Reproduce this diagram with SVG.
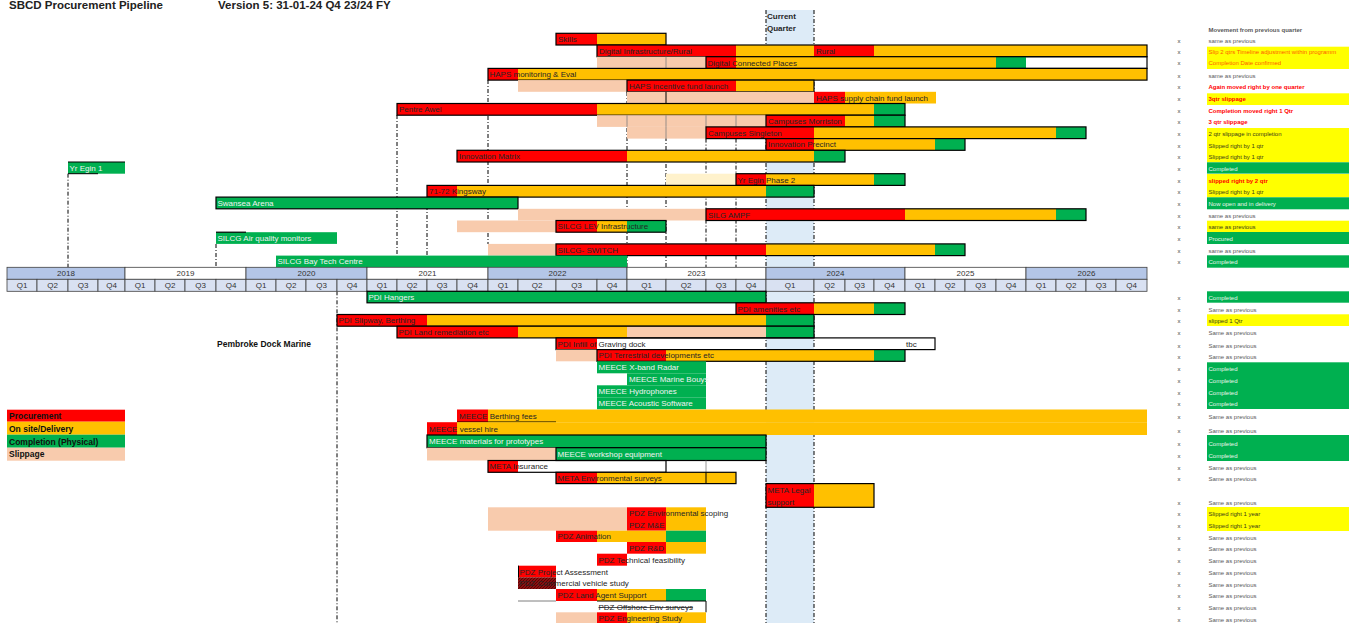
<svg xmlns="http://www.w3.org/2000/svg" width="1349" height="623" viewBox="0 0 1349 623">
<defs>
<style>
.r{fill:#FF0000}.o{fill:#FFC000}.g{fill:#00B050}.s{fill:#F8CBAD}.c{fill:#FFF2CC}.y{fill:#FFFF00}
.b{fill:none;stroke:#000;stroke-width:1.2}
.gl{stroke:#7f7f7f;stroke-width:0.8}
.t{font-family:"Liberation Sans",Arial,sans-serif;font-size:8px;fill:#262626}
.w{fill:#F2F2F2}
.dl{stroke:#000;stroke-width:1;stroke-dasharray:4 2 1 2;fill:none}
.yr{fill:#B4C6E7;stroke:#404040;stroke-width:0.8}
.yw{fill:#FFFFFF;stroke:#404040;stroke-width:0.8}
.q{fill:#D9E1F2;stroke:#404040;stroke-width:0.8}
.hc{font-family:"Liberation Sans",Arial,sans-serif;font-size:8px;fill:#333;text-anchor:middle}
.lg{font-family:"Liberation Sans",Arial,sans-serif;font-size:8.5px;font-weight:bold;fill:#111}
.n{font-family:"Liberation Sans",Arial,sans-serif;font-size:6px;fill:#595959}
.nb{font-weight:bold;fill:#FF0000}
.no{fill:#FF5B00}
.nd{fill:#3a3a1a}
.nw{fill:#E8F5EC}
.x{font-family:"Liberation Sans",Arial,sans-serif;font-size:6px;fill:#404040}
.ti{font-family:"Liberation Sans",Arial,sans-serif;font-size:11.5px;font-weight:bold;fill:#222}
</style>
<pattern id="hatch" width="3" height="3" patternUnits="userSpaceOnUse">
<rect width="3" height="3" fill="#8B1010"/>
<path d="M0,3 L3,0" stroke="#4a0000" stroke-width="0.8"/>
</pattern>
</defs>
<rect width="1349" height="623" fill="#FFFFFF"/>

<g id="title">
<text class="ti" x="9" y="9">SBCD Procurement Pipeline</text>
<text class="ti" x="218" y="9">Version 5:  31-01-24 Q4 23/24 FY</text>
</g>

<g id="current-quarter">
<rect x="766" y="10" width="48" height="613" fill="#DDEBF7"/>
<text class="t" x="767" y="19" font-weight="bold">Current</text>
<text class="t" x="767" y="31" font-weight="bold">Quarter</text>
</g>

<g id="connectors">
<line class="dl" x1="68" y1="173.7" x2="68" y2="267.3"/>
<line class="dl" x1="216" y1="244" x2="216" y2="267.3"/>
<line class="dl" x1="397" y1="115" x2="397" y2="255.6"/>
<line class="dl" x1="427" y1="197" x2="427" y2="255.6"/>
<line class="dl" x1="488" y1="80" x2="488" y2="244"/>
<line class="dl" x1="627" y1="92" x2="627" y2="267.3"/>
<line class="dl" x1="666" y1="92" x2="666" y2="267.3"/>
<line class="dl" x1="706" y1="138.6" x2="706" y2="267.3"/>
<line class="dl" x1="736" y1="138.6" x2="736" y2="267.3"/>
<line class="dl" x1="766" y1="10" x2="766" y2="623"/>
<line class="dl" x1="814" y1="10" x2="814" y2="623"/>
<line class="dl" x1="337" y1="291.3" x2="337" y2="623"/>
</g>

<g id="skills">
<rect class="r" x="556" y="33.3" width="41" height="11.7"/><rect class="o" x="597" y="33.3" width="69" height="11.7"/>
<rect class="b" x="556" y="33.3" width="110" height="11.7"/>
<text class="t" x="558" y="42.1">Skills</text>
</g>
<g id="digital-infrastructure">
<rect class="r" x="597" y="45" width="139" height="11.7"/><rect class="o" x="736" y="45" width="78" height="11.7"/>
<rect class="r" x="814" y="45" width="60" height="11.7"/><rect class="o" x="874" y="45" width="273" height="11.7"/>
<rect class="b" x="597" y="45" width="550" height="11.7"/>
<text class="t" x="599" y="53.8">Digital Infrastructure/Rural</text>
<text class="t" x="816" y="53.8">Rural</text>
</g>
<g id="digital-connected-places">
<rect class="s" x="597" y="56.7" width="109" height="11.7"/><line class="gl" x1="666" y1="56.7" x2="666" y2="68.4"/>
<rect class="r" x="706" y="56.7" width="30" height="11.7"/><rect class="o" x="736" y="56.7" width="260" height="11.7"/>
<rect class="g" x="996" y="56.7" width="30" height="11.7"/>
<rect class="b" x="706" y="56.7" width="441" height="11.7"/>
<text class="t" x="707.5" y="65.5">Digital Connected Places</text>
</g>
<g id="haps-monitoring">
<rect class="r" x="488" y="68.4" width="30" height="11.7"/><rect class="o" x="518" y="68.4" width="629" height="11.7"/>
<rect class="b" x="488" y="68.4" width="659" height="11.7"/>
<text class="t" x="489.5" y="77.2">HAPS monitoring &amp; Eval</text>
</g>
<g id="haps-incentive">
<rect class="s" x="518" y="80.1" width="109" height="11.7"/>
<rect class="r" x="627" y="80.1" width="109" height="11.7"/><rect class="o" x="736" y="80.1" width="78" height="11.7"/>
<rect class="b" x="627" y="80.1" width="187" height="11.7"/>
<text class="t" x="629" y="88.9">HAPS incentive fund launch</text>
</g>
<g id="haps-supply-chain">
<rect class="s" x="627" y="91.8" width="187" height="11.7"/><line x1="666" y1="91.8" x2="666" y2="103.5" stroke="#000" stroke-width="1"/>
<rect class="r" x="814" y="91.8" width="31" height="11.7"/><rect class="o" x="845" y="91.8" width="91" height="11.7"/>
<text class="t" x="816" y="100.6">HAPS supply chain fund launch</text>
</g>
<g id="pentre-awel">
<rect class="r" x="397" y="103.5" width="200" height="11.7"/><rect class="o" x="597" y="103.5" width="277" height="11.7"/>
<rect class="g" x="874" y="103.5" width="31" height="11.7"/>
<rect class="b" x="397" y="103.5" width="508" height="11.7"/>
<text class="t" x="399" y="112.3">Pentre Awel</text>
</g>
<g id="campuses-morriston">
<rect class="s" x="597" y="115.2" width="169" height="11.7"/>
<line class="gl" x1="627" y1="115.2" x2="627" y2="126.9"/><line class="gl" x1="666" y1="115.2" x2="666" y2="126.9"/><line class="gl" x1="706" y1="115.2" x2="706" y2="126.9"/><line class="gl" x1="736" y1="115.2" x2="736" y2="126.9"/>
<rect class="r" x="766" y="115.2" width="79" height="11.7"/><rect class="o" x="845" y="115.2" width="29" height="11.7"/>
<rect class="g" x="874" y="115.2" width="31" height="11.7"/>
<rect class="b" x="766" y="115.2" width="139" height="11.7"/>
<text class="t" x="768" y="124">Campuses Morriston</text>
</g>
<g id="campuses-singleton">
<rect class="s" x="627" y="126.9" width="79" height="11.7"/><line class="gl" x1="666" y1="126.9" x2="666" y2="138.6"/>
<rect class="r" x="706" y="126.9" width="108" height="11.7"/><rect class="o" x="814" y="126.9" width="242" height="11.7"/>
<rect class="g" x="1056" y="126.9" width="30" height="11.7"/>
<rect class="b" x="706" y="126.9" width="380" height="11.7"/>
<text class="t" x="708" y="135.7">Campuses Singleton</text>
</g>
<g id="innovation-precinct">
<rect class="r" x="766" y="138.6" width="48" height="11.7"/><rect class="o" x="814" y="138.6" width="121" height="11.7"/>
<rect class="g" x="935" y="138.6" width="30" height="11.7"/>
<rect class="b" x="766" y="138.6" width="199" height="11.7"/>
<text class="t" x="768" y="147.4">Innovation Precinct</text>
</g>
<g id="innovation-matrix">
<rect class="r" x="457" y="150.3" width="170" height="11.7"/><rect class="o" x="627" y="150.3" width="187" height="11.7"/>
<rect class="g" x="814" y="150.3" width="31" height="11.7"/>
<rect class="b" x="457" y="150.3" width="388" height="11.7"/>
<text class="t" x="459" y="159.1">Innovation Matrix</text>
</g>
<g id="yr-egin-1">
<rect class="g" x="68" y="162" width="57" height="11.7"/>
<line x1="68" y1="162" x2="125" y2="162" stroke="#000" stroke-width="1.2"/><line x1="68" y1="173.7" x2="98" y2="173.7" stroke="#000" stroke-width="1"/>
<text class="t w" x="69.5" y="170.8">Yr Egin 1</text>
</g>
<g id="yr-egin-2">
<rect class="c" x="666" y="173.7" width="70" height="11.7"/>
<rect class="r" x="736" y="173.7" width="30" height="11.7"/><rect class="o" x="766" y="173.7" width="108" height="11.7"/>
<rect class="g" x="874" y="173.7" width="31" height="11.7"/>
<rect class="b" x="736" y="173.7" width="169" height="11.7"/>
<text class="t" x="737.5" y="182.5">Yr Egin Phase 2</text>
</g>
<g id="kingsway">
<rect class="r" x="427" y="185.4" width="30" height="11.7"/><rect class="o" x="457" y="185.4" width="309" height="11.7"/>
<rect class="g" x="766" y="185.4" width="48" height="11.7"/>
<rect class="b" x="427" y="185.4" width="387" height="11.7"/>
<text class="t" x="429" y="194.2">71-72 Kingsway</text>
</g>
<g id="swansea-arena">
<rect class="g" x="216" y="197.1" width="302" height="11.7"/>
<rect class="b" x="216" y="197.1" width="302" height="11.7"/>
<text class="t w" x="217.5" y="205.9">Swansea Arena</text>
</g>
<g id="silg-ampf">
<rect class="s" x="518" y="208.8" width="188" height="11.7"/>
<rect class="r" x="706" y="208.8" width="199" height="11.7"/><rect class="o" x="905" y="208.8" width="151" height="11.7"/>
<rect class="g" x="1056" y="208.8" width="30" height="11.7"/>
<rect class="b" x="706" y="208.8" width="380" height="11.7"/>
<text class="t" x="708" y="217.6">SILG AMPF</text>
</g>
<g id="silcg-lev">
<rect class="s" x="457" y="220.5" width="99" height="11.7"/>
<rect class="r" x="556" y="220.5" width="41" height="11.7"/><rect class="o" x="597" y="220.5" width="30" height="11.7"/>
<rect class="g" x="627" y="220.5" width="39" height="11.7"/>
<rect class="b" x="556" y="220.5" width="110" height="11.7"/>
<text class="t" x="557.5" y="229.3">SILCG LEV Infrastructure</text>
</g>
<g id="silcg-air-quality">
<rect class="g" x="216" y="232.2" width="121" height="11.7"/>
<line x1="216" y1="232.2" x2="246" y2="232.2" stroke="#000" stroke-width="1.2"/>
<text class="t w" x="217.5" y="241">SILCG Air quality monitors</text>
</g>
<g id="silcg-switch">
<rect class="s" x="488" y="243.9" width="68" height="11.7"/>
<rect class="r" x="556" y="243.9" width="210" height="11.7"/><rect class="o" x="766" y="243.9" width="169" height="11.7"/>
<rect class="g" x="935" y="243.9" width="30" height="11.7"/>
<rect class="b" x="556" y="243.9" width="409" height="11.7"/>
<text class="t" x="557.5" y="252.7">SILCG- SWITCH</text>
</g>
<g id="silcg-bay-tech">
<rect class="g" x="276" y="255.6" width="351" height="11.7"/>
<text class="t w" x="277.5" y="264.4">SILCG Bay Tech Centre</text>
</g>

<g id="timeline">
<rect class="yr" x="7" y="267.3" width="118" height="12"/><text class="hc" x="66" y="276.3">2018</text>
<rect class="yw" x="125" y="267.3" width="121" height="12"/><text class="hc" x="185.5" y="276.3">2019</text>
<rect class="yr" x="246" y="267.3" width="121" height="12"/><text class="hc" x="306.5" y="276.3">2020</text>
<rect class="yw" x="367" y="267.3" width="121" height="12"/><text class="hc" x="427.5" y="276.3">2021</text>
<rect class="yr" x="488" y="267.3" width="139" height="12"/><text class="hc" x="557.5" y="276.3">2022</text>
<rect class="yw" x="627" y="267.3" width="139" height="12"/><text class="hc" x="696.5" y="276.3">2023</text>
<rect class="yr" x="766" y="267.3" width="139" height="12"/><text class="hc" x="835.5" y="276.3">2024</text>
<rect class="yw" x="905" y="267.3" width="121" height="12"/><text class="hc" x="965.5" y="276.3">2025</text>
<rect class="yr" x="1026" y="267.3" width="121" height="12"/><text class="hc" x="1086.5" y="276.3">2026</text>
<rect class="q" x="7" y="279.3" width="30" height="12"/><text class="hc" x="22" y="288.3">Q1</text>
<rect class="q" x="37" y="279.3" width="31" height="12"/><text class="hc" x="52.5" y="288.3">Q2</text>
<rect class="q" x="68" y="279.3" width="30" height="12"/><text class="hc" x="83" y="288.3">Q3</text>
<rect class="q" x="98" y="279.3" width="27" height="12"/><text class="hc" x="111.5" y="288.3">Q4</text>
<rect class="q" x="125" y="279.3" width="30" height="12"/><text class="hc" x="140" y="288.3">Q1</text>
<rect class="q" x="155" y="279.3" width="30" height="12"/><text class="hc" x="170" y="288.3">Q2</text>
<rect class="q" x="185" y="279.3" width="31" height="12"/><text class="hc" x="200.5" y="288.3">Q3</text>
<rect class="q" x="216" y="279.3" width="30" height="12"/><text class="hc" x="231" y="288.3">Q4</text>
<rect class="q" x="246" y="279.3" width="30" height="12"/><text class="hc" x="261" y="288.3">Q1</text>
<rect class="q" x="276" y="279.3" width="30" height="12"/><text class="hc" x="291" y="288.3">Q2</text>
<rect class="q" x="306" y="279.3" width="31" height="12"/><text class="hc" x="321.5" y="288.3">Q3</text>
<rect class="q" x="337" y="279.3" width="30" height="12"/><text class="hc" x="352" y="288.3">Q4</text>
<rect class="q" x="367" y="279.3" width="30" height="12"/><text class="hc" x="382" y="288.3">Q1</text>
<rect class="q" x="397" y="279.3" width="30" height="12"/><text class="hc" x="412" y="288.3">Q2</text>
<rect class="q" x="427" y="279.3" width="30" height="12"/><text class="hc" x="442" y="288.3">Q3</text>
<rect class="q" x="457" y="279.3" width="31" height="12"/><text class="hc" x="472.5" y="288.3">Q4</text>
<rect class="q" x="488" y="279.3" width="30" height="12"/><text class="hc" x="503" y="288.3">Q1</text>
<rect class="q" x="518" y="279.3" width="38" height="12"/><text class="hc" x="537" y="288.3">Q2</text>
<rect class="q" x="556" y="279.3" width="41" height="12"/><text class="hc" x="576.5" y="288.3">Q3</text>
<rect class="q" x="597" y="279.3" width="30" height="12"/><text class="hc" x="612" y="288.3">Q4</text>
<rect class="q" x="627" y="279.3" width="39" height="12"/><text class="hc" x="646.5" y="288.3">Q1</text>
<rect class="q" x="666" y="279.3" width="40" height="12"/><text class="hc" x="686" y="288.3">Q2</text>
<rect class="q" x="706" y="279.3" width="30" height="12"/><text class="hc" x="721" y="288.3">Q3</text>
<rect class="q" x="736" y="279.3" width="30" height="12"/><text class="hc" x="751" y="288.3">Q4</text>
<rect class="q" x="766" y="279.3" width="48" height="12"/><text class="hc" x="790" y="288.3">Q1</text>
<rect class="q" x="814" y="279.3" width="31" height="12"/><text class="hc" x="829.5" y="288.3">Q2</text>
<rect class="q" x="845" y="279.3" width="29" height="12"/><text class="hc" x="859.5" y="288.3">Q3</text>
<rect class="q" x="874" y="279.3" width="31" height="12"/><text class="hc" x="889.5" y="288.3">Q4</text>
<rect class="q" x="905" y="279.3" width="30" height="12"/><text class="hc" x="920" y="288.3">Q1</text>
<rect class="q" x="935" y="279.3" width="30" height="12"/><text class="hc" x="950" y="288.3">Q2</text>
<rect class="q" x="965" y="279.3" width="31" height="12"/><text class="hc" x="980.5" y="288.3">Q3</text>
<rect class="q" x="996" y="279.3" width="30" height="12"/><text class="hc" x="1011" y="288.3">Q4</text>
<rect class="q" x="1026" y="279.3" width="30" height="12"/><text class="hc" x="1041" y="288.3">Q1</text>
<rect class="q" x="1056" y="279.3" width="30" height="12"/><text class="hc" x="1071" y="288.3">Q2</text>
<rect class="q" x="1086" y="279.3" width="30" height="12"/><text class="hc" x="1101" y="288.3">Q3</text>
<rect class="q" x="1116" y="279.3" width="31" height="12"/><text class="hc" x="1131.5" y="288.3">Q4</text>
</g>

<g id="pdi-hangers">
<rect class="g" x="367" y="291.3" width="399" height="11.5"/>
<rect class="b" x="367" y="291.3" width="399" height="11.5"/>
<text class="t w" x="368.5" y="300">PDI Hangers</text>
</g>
<g id="pdi-amenities">
<rect class="r" x="736" y="302.8" width="78" height="11.7"/><rect class="o" x="814" y="302.8" width="60" height="11.7"/>
<rect class="g" x="874" y="302.8" width="31" height="11.7"/>
<rect class="b" x="736" y="302.8" width="169" height="11.7"/>
<text class="t" x="737.5" y="311.6">PDI amenities etc</text>
</g>
<g id="pdi-slipway">
<rect class="r" x="337" y="314.5" width="90" height="11.7"/><rect class="o" x="427" y="314.5" width="339" height="11.7"/>
<rect class="g" x="766" y="314.5" width="48" height="11.7"/>
<rect class="b" x="337" y="314.5" width="477" height="11.7"/>
<text class="t" x="338.5" y="323.3">PDI Slipway, Berthing</text>
</g>
<g id="pdi-land-remediation">
<rect class="r" x="397" y="326.2" width="121" height="11.7"/><rect class="o" x="518" y="326.2" width="109" height="11.7"/>
<rect class="s" x="627" y="326.2" width="139" height="11.7"/><rect class="g" x="766" y="326.2" width="48" height="11.7"/>
<rect class="b" x="397" y="326.2" width="417" height="11.7"/>
<text class="t" x="398.5" y="335">PDI Land remediation etc</text>
</g>
<g id="pdi-infill">
<rect class="r" x="556" y="337.9" width="41" height="11.7"/>
<rect class="b" x="556" y="337.9" width="379" height="11.7"/>
<text class="t" x="557.5" y="346.7">PDI Infill of Graving dock</text>
<text class="t" x="906" y="346.7">tbc</text>
</g>
<g id="pembroke-label">
<text class="lg" x="217" y="347">Pembroke Dock Marine</text>
</g>
<g id="pdi-terrestrial">
<rect class="s" x="556" y="349.6" width="41" height="11.7"/>
<rect class="r" x="597" y="349.6" width="69" height="11.7"/><rect class="o" x="666" y="349.6" width="208" height="11.7"/>
<rect class="g" x="874" y="349.6" width="31" height="11.7"/>
<rect class="b" x="597" y="349.6" width="308" height="11.7"/>
<text class="t" x="598.5" y="358.4">PDI Terrestrial developments etc</text>
</g>
<g id="meece-xband">
<rect class="g" x="597" y="361.3" width="109" height="12"/>
<text class="t w" x="598.5" y="370.3">MEECE X-band Radar</text>
</g>
<g id="meece-bouys">
<rect class="g" x="627" y="373.3" width="79" height="12"/>
<text class="t w" x="629" y="382.2">MEECE Marine Bouys</text>
</g>
<g id="meece-hydrophones">
<rect class="g" x="597" y="385.3" width="109" height="12"/>
<text class="t w" x="598.5" y="394.2">MEECE Hydrophones</text>
</g>
<g id="meece-acoustic">
<rect class="g" x="597" y="397.3" width="109" height="12"/>
<text class="t w" x="598.5" y="406">MEECE Acoustic Software</text>
</g>
<g id="meece-berthing">
<rect class="r" x="457" y="409.5" width="31" height="12.7"/><rect class="o" x="488" y="409.5" width="659" height="12.7"/>
<line x1="457" y1="422" x2="556" y2="422" stroke="#000" stroke-width="1"/>
<text class="t" x="459" y="418.6">MEECE Berthing fees</text>
</g>
<g id="meece-vessel">
<rect class="r" x="427" y="422.2" width="30" height="12.8"/><rect class="o" x="457" y="422.2" width="690" height="12.8"/>
<text class="t" x="429" y="431.6">MEECE vessel hire</text>
</g>
<g id="meece-materials">
<rect class="g" x="427" y="435" width="339" height="12.7"/>
<rect class="b" x="427" y="435" width="339" height="12.7"/>
<text class="t w" x="429" y="444.3">MEECE materials for prototypes</text>
</g>
<g id="meece-workshop">
<rect class="s" x="427" y="447.7" width="129" height="12.8"/>
<rect class="g" x="556" y="447.7" width="210" height="12.8"/>
<rect class="b" x="556" y="447.7" width="210" height="12.8"/>
<text class="t w" x="557.5" y="457">MEECE workshop equipment</text>
</g>
<g id="meta-insurance">
<rect class="r" x="488" y="460.5" width="30" height="11.8"/>
<rect class="b" x="488" y="460.5" width="178" height="11.8"/>
<line class="gl" x1="706" y1="460.5" x2="706" y2="472.3"/>
<text class="t" x="489.5" y="469.3">META Insurance</text>
</g>
<g id="meta-environmental">
<rect class="r" x="556" y="472.3" width="41" height="11.3"/><rect class="o" x="597" y="472.3" width="139" height="11.3"/>
<line x1="706" y1="472.3" x2="706" y2="483.6" stroke="#000" stroke-width="1"/>
<rect class="b" x="556" y="472.3" width="180" height="11.3"/>
<text class="t" x="557.5" y="481">META Environmental surveys</text>
</g>
<g id="meta-legal">
<rect class="r" x="766" y="483.6" width="48" height="23.7"/><rect class="o" x="814" y="483.6" width="60" height="23.7"/>
<rect class="b" x="766" y="483.6" width="108" height="23.7"/>
<text class="t" x="767.5" y="493">META Legal</text>
<text class="t" x="767.5" y="504.5">support</text>
</g>
<g id="pdz-env-scoping">
<rect class="s" x="488" y="507.3" width="139" height="23.4"/>
<rect class="r" x="627" y="507.3" width="39" height="11.7"/><rect class="o" x="666" y="507.3" width="40" height="11.7"/>
<text class="t" x="629" y="516.1">PDZ Environmental scoping</text>
</g>
<g id="pdz-me">
<rect class="r" x="627" y="519" width="39" height="11.7"/><rect class="o" x="666" y="519" width="40" height="11.7"/>
<text class="t" x="629" y="527.8">PDZ M&amp;E</text>
</g>
<g id="pdz-animation">
<rect class="r" x="556" y="530.7" width="41" height="11.3"/><rect class="o" x="597" y="530.7" width="69" height="11.3"/>
<rect class="g" x="666" y="530.7" width="40" height="11.3"/>
<text class="t" x="557.5" y="539.4">PDZ Animation</text>
</g>
<g id="pdz-rd">
<rect class="r" x="627" y="542" width="39" height="11.7"/><rect class="o" x="666" y="542" width="40" height="11.7"/>
<text class="t" x="629" y="550.8">PDZ R&amp;D</text>
</g>
<g id="pdz-technical">
<rect class="r" x="597" y="553.7" width="30" height="12"/>
<text class="t" x="598.5" y="562.5">PDZ Technical feasibility</text>
</g>
<g id="pdz-project-assessment">
<rect class="r" x="518" y="565.7" width="38" height="11.6"/>
<line x1="518.5" y1="565.7" x2="518.5" y2="589" stroke="#000" stroke-width="1"/>
<text class="t" x="519.5" y="574.5">PDZ Project Assessment</text>
</g>
<g id="pdz-commercial-vehicle">
<rect x="518" y="577.3" width="38" height="11.7" fill="url(#hatch)"/>
<text class="t" x="519.5" y="586.1">PDZ Commercial vehicle study</text>
</g>
<g id="pdz-land-agent">
<rect class="r" x="556" y="589" width="41" height="12"/><rect class="o" x="597" y="589" width="69" height="12"/>
<rect class="g" x="666" y="589" width="40" height="12"/>
<line x1="518" y1="601" x2="556" y2="601" stroke="#7f7f7f" stroke-width="1"/>
<text class="t" x="557.5" y="597.8">PDZ Land Agent Support</text>
</g>
<g id="pdz-offshore">
<path d="M597,601 H706 V612.3" fill="none" stroke="#000" stroke-width="1"/>
<text class="t" x="598.5" y="609.8" text-decoration="line-through">PDZ Offshore Env surveys</text>
</g>
<g id="pdz-engineering">
<rect class="s" x="556" y="612.3" width="41" height="11.7"/>
<rect class="r" x="597" y="612.3" width="30" height="11.7"/><rect class="o" x="627" y="612.3" width="79" height="11.7"/>
<text class="t" x="598.5" y="621">PDZ Engineering Study</text>
</g>

<g id="legend">
<rect class="r" x="7" y="409.7" width="118" height="12"/>
<rect class="o" x="7" y="421.7" width="118" height="13"/>
<rect class="g" x="7" y="434.7" width="118" height="13"/>
<rect class="s" x="7" y="447.7" width="118" height="13"/>
<text class="lg" x="9" y="418.7">Procurement</text>
<text class="lg" x="9" y="431.5">On site/Delivery</text>
<text class="lg" x="9" y="444.5">Completion (Physical)</text>
<text class="lg" x="9" y="456.8" font-size="6.5">Slippage</text>
</g>

<g id="notes">
<rect class="y" x="1207" y="46.7" width="142" height="22.3"/>
<rect class="y" x="1207" y="93.3" width="142" height="11.7"/>
<rect class="y" x="1207" y="128" width="142" height="34.3"/>
<rect class="g" x="1207" y="162.3" width="142" height="11.3"/>
<rect class="y" x="1207" y="174" width="142" height="23.3"/>
<rect class="g" x="1207" y="197.3" width="142" height="12"/>
<rect class="y" x="1207" y="220.7" width="142" height="11.3"/>
<rect class="g" x="1207" y="232" width="142" height="12"/>
<rect class="g" x="1207" y="255.3" width="142" height="12.4"/>
<rect class="g" x="1207" y="291.3" width="142" height="11.4"/>
<rect class="y" x="1207" y="314.3" width="142" height="11.7"/>
<rect class="g" x="1207" y="362.3" width="142" height="46.7"/>
<rect class="g" x="1207" y="435" width="142" height="26"/>
<rect class="y" x="1207" y="507" width="142" height="24"/>
<text class="n" x="1208.5" y="32" font-weight="bold" fill="#222">Movement from previous quarter</text>
<text class="n" x="1208.5" y="43">same as previous</text>
<text class="n no" x="1208.5" y="54">Slip 2 qtrs Timeline adjustment within programm</text>
<text class="n no" x="1208.5" y="65.3">Completion Date confirmed</text>
<text class="n" x="1208.5" y="77.7">same as previous</text>
<text class="n nb" x="1208.5" y="89">Again moved right by one quarter</text>
<text class="n nb" x="1208.5" y="101">3qtr slippage</text>
<text class="n nb" x="1208.5" y="112.7">Completion moved right 1 Qtr</text>
<text class="n nb" x="1208.5" y="124">3 qtr slippage</text>
<text class="n nd" x="1208.5" y="136">2 qtr slippage in completion</text>
<text class="n nd" x="1208.5" y="147.7">Slipped right by 1 qtr</text>
<text class="n nd" x="1208.5" y="158.7">Slipped right by 1 qtr</text>
<text class="n nw" x="1208.5" y="170.7">Completed</text>
<text class="n nb" x="1208.5" y="183">slipped right by 2 qtr</text>
<text class="n nd" x="1208.5" y="194">Slipped right by 1 qtr</text>
<text class="n nw" x="1208.5" y="205.7">Now open and in delivery</text>
<text class="n" x="1208.5" y="218">same as previous</text>
<text class="n nd" x="1208.5" y="228.7">same as previous</text>
<text class="n nw" x="1208.5" y="240.7">Procured</text>
<text class="n" x="1208.5" y="252.7">same as previous</text>
<text class="n nw" x="1208.5" y="263.7">Completed</text>
<text class="n nw" x="1208.5" y="300">Completed</text>
<text class="n" x="1208.5" y="311.7">Same as previous</text>
<text class="n nd" x="1208.5" y="322.7">slipped 1 Qtr</text>
<text class="n" x="1208.5" y="334.7">Same as previous</text>
<text class="n" x="1208.5" y="347.7">Same as previous</text>
<text class="n" x="1208.5" y="359.3">Same as previous</text>
<text class="n nw" x="1208.5" y="370.7">Completed</text>
<text class="n nw" x="1208.5" y="383">Completed</text>
<text class="n nw" x="1208.5" y="394.7">Completed</text>
<text class="n nw" x="1208.5" y="405.7">Completed</text>
<text class="n" x="1208.5" y="419">Same as previous</text>
<text class="n" x="1208.5" y="432.7">Same as previous</text>
<text class="n nw" x="1208.5" y="445.7">Completed</text>
<text class="n nw" x="1208.5" y="457.7">Completed</text>
<text class="n" x="1208.5" y="469.7">Same as previous</text>
<text class="n" x="1208.5" y="481">Same as previous</text>
<text class="n" x="1208.5" y="504.7">Same as previous</text>
<text class="n nd" x="1208.5" y="515.7">Slipped right 1 year</text>
<text class="n nd" x="1208.5" y="528">Slipped right 1 year</text>
<text class="n" x="1208.5" y="539.7">Same as previous</text>
<text class="n" x="1208.5" y="550.7">Same as previous</text>
<text class="n" x="1208.5" y="562.7">Same as previous</text>
<text class="n" x="1208.5" y="574.7">Same as previous</text>
<text class="n" x="1208.5" y="586.7">Same as previous</text>
<text class="n" x="1208.5" y="597.7">Same as previous</text>
<text class="n" x="1208.5" y="609.7">Same as previous</text>
<text class="n" x="1208.5" y="621.7">Same as previous</text>
</g>
<g id="note-markers">
<text class="x" x="1177.5" y="43">x</text><text class="x" x="1177.5" y="54">x</text><text class="x" x="1177.5" y="65.3">x</text>
<text class="x" x="1177.5" y="77.7">x</text><text class="x" x="1177.5" y="89">x</text><text class="x" x="1177.5" y="101">x</text>
<text class="x" x="1177.5" y="112.7">x</text><text class="x" x="1177.5" y="124">x</text><text class="x" x="1177.5" y="136">x</text>
<text class="x" x="1177.5" y="147.7" fill="#FFC000">x</text><text class="x" x="1177.5" y="158.7">x</text><text class="x" x="1177.5" y="170.7">x</text>
<text class="x" x="1177.5" y="183">x</text><text class="x" x="1177.5" y="194">x</text><text class="x" x="1177.5" y="205.7">x</text>
<text class="x" x="1177.5" y="218">x</text><text class="x" x="1177.5" y="228.7">x</text><text class="x" x="1177.5" y="240.7">x</text>
<text class="x" x="1177.5" y="252.7">x</text><text class="x" x="1177.5" y="263.7">x</text>
<text class="x" x="1177.5" y="300">x</text><text class="x" x="1177.5" y="311.7">x</text><text class="x" x="1177.5" y="322.7">x</text>
<text class="x" x="1177.5" y="334.7">x</text><text class="x" x="1177.5" y="347.7">x</text><text class="x" x="1177.5" y="359.3">x</text>
<text class="x" x="1177.5" y="370.7">x</text><text class="x" x="1177.5" y="383">x</text><text class="x" x="1177.5" y="394.7">x</text>
<text class="x" x="1177.5" y="405.7">x</text><text class="x" x="1177.5" y="419">x</text><text class="x" x="1177.5" y="432.7">x</text>
<text class="x" x="1177.5" y="445.7">x</text><text class="x" x="1177.5" y="457.7">x</text><text class="x" x="1177.5" y="469.7">x</text>
<text class="x" x="1177.5" y="481">x</text><text class="x" x="1177.5" y="504.7">x</text><text class="x" x="1177.5" y="515.7">x</text>
<text class="x" x="1177.5" y="528">x</text><text class="x" x="1177.5" y="539.7">x</text><text class="x" x="1177.5" y="550.7">x</text>
<text class="x" x="1177.5" y="562.7">x</text><text class="x" x="1177.5" y="574.7">x</text><text class="x" x="1177.5" y="586.7">x</text>
<text class="x" x="1177.5" y="597.7">x</text><text class="x" x="1177.5" y="609.7">x</text><text class="x" x="1177.5" y="621.7">x</text>
</g>
</svg>
